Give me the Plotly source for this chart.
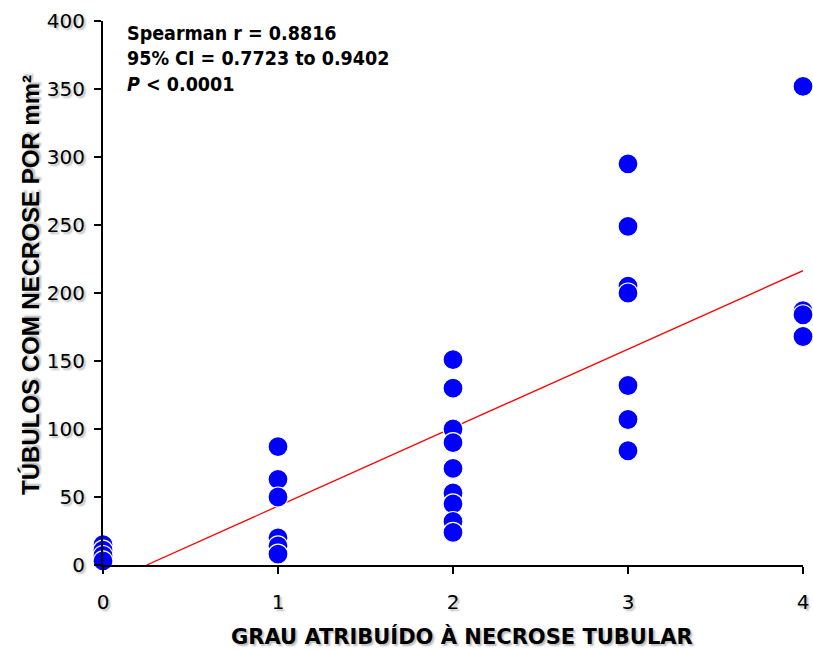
import plotly.graph_objects as go

grau_0 = [15, 11, 7, 3]
grau_1 = [87, 63, 50, 20, 14, 8]
grau_2 = [151, 130, 100, 90, 71, 53, 45, 32, 24]
grau_3 = [295, 249, 205, 200, 132, 107, 84]
grau_4 = [352, 187, 184, 168]
groups = [0, 1, 2, 3, 4]
values = [grau_0, grau_1, grau_2, grau_3, grau_4]

slope = 57.7
intercept = -14.4

xs, ys = [], []
for g, vals in zip(groups, values):
    xs += [g] * len(vals)
    ys += vals

x_start = -intercept / slope
line_x = [x_start, 4]
line_y = [slope * x + intercept for x in line_x]

fig = go.Figure()
fig.add_trace(go.Scatter(x=line_x, y=line_y, mode="lines",
                         line=dict(color="#ff0000", width=1.3), cliponaxis=False,
                         hoverinfo="skip"))
fig.add_trace(go.Scatter(x=xs, y=ys, mode="markers", cliponaxis=False,
                         marker=dict(size=20, color="#0000ff",
                                     line=dict(color="white", width=1.2))))

shadow = "2px 2px 2px #bbbbbb"
tickfont = dict(family="DejaVu Sans", size=20, color="black", shadow=shadow)

fig.update_layout(
    width=813, height=650,
    margin=dict(l=103, r=10, t=21, b=85),
    plot_bgcolor="white", paper_bgcolor="white",
    showlegend=False,
    xaxis=dict(range=[0, 4], tickvals=groups, ticktext=[str(g) for g in groups],
               automargin=False,
               showgrid=False, zeroline=False, showline=True, linecolor="black",
               linewidth=2, ticks="outside", ticklen=7, tickwidth=1.5,
               tickcolor="black", tickfont=tickfont, ticklabelstandoff=11),
    yaxis=dict(range=[0, 400], tickvals=[0, 50, 100, 150, 200, 250, 300, 350, 400],
               automargin=False,
               showgrid=False, zeroline=False, showline=True, linecolor="black",
               linewidth=2, ticks="outside", ticklen=7, tickwidth=1.5,
               tickcolor="black", tickfont=tickfont, ticklabelstandoff=5),
    annotations=[
        dict(x=0, y=1, xref="paper", yref="paper", xshift=22, yshift=1,
             xanchor="left", yanchor="top", align="left", showarrow=False,
             text="Spearman r = 0.8816<br>95% CI = 0.7723 to 0.9402<br><i>P</i> < 0.0001",
             font=dict(family="DejaVu Sans Condensed", size=19.5, color="black",
                       weight="bold")),
        dict(x=0, y=0.5, xref="paper", yref="paper", xshift=-73, yshift=8,
             xanchor="center", yanchor="middle", textangle=-90, showarrow=False,
             text="TÚBULOS COM NECROSE POR mm²",
             font=dict(family="Liberation Sans, Arial", size=24, color="black",
                       weight="bold", shadow=shadow)),
        dict(x=0.5, y=0, xref="paper", yref="paper", xshift=9, yshift=-71,
             xanchor="center", yanchor="middle", showarrow=False,
             text="GRAU ATRIBUÍDO À NECROSE TUBULAR",
             font=dict(family="DejaVu Sans", size=21, color="black",
                       weight="bold", shadow=shadow)),
    ],
)

fig.write_html("out.html")
